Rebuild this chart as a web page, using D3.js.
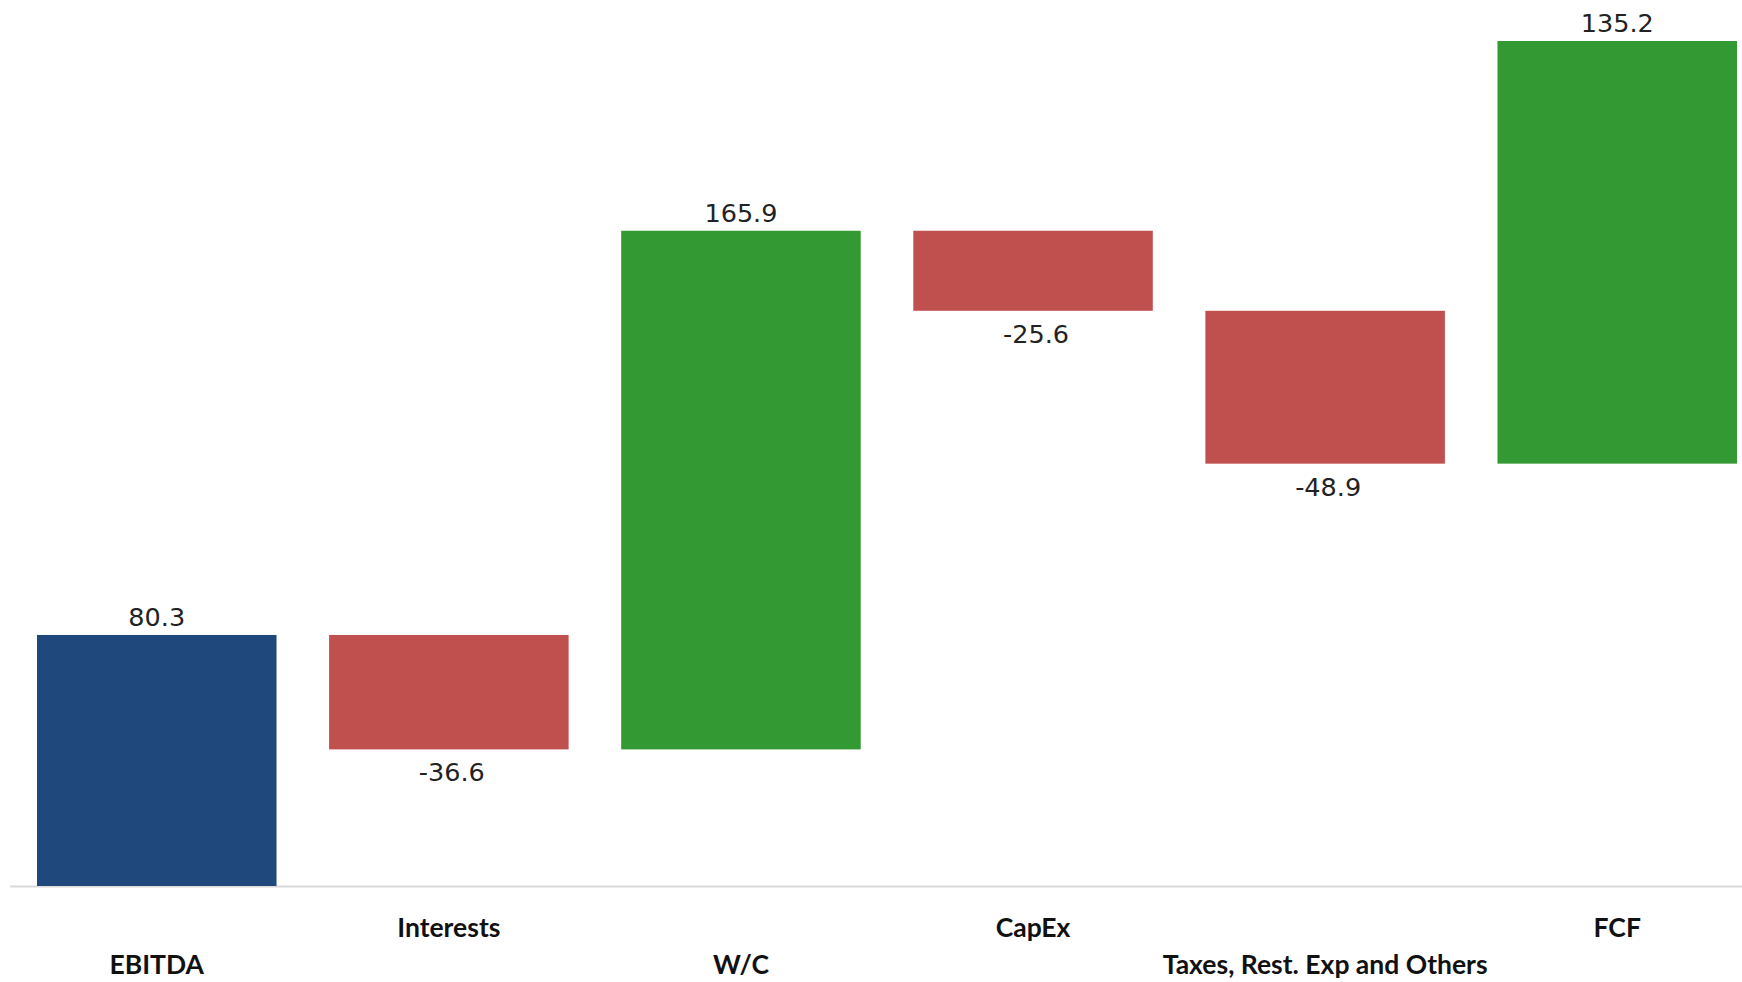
<!DOCTYPE html>
<html>
<head>
<meta charset="utf-8">
<script src="https://cdn.jsdelivr.net/npm/d3@7"></script>
<style>
  html, body { margin: 0; padding: 0; background: #ffffff; }
  svg { display: block; }
</style>
</head>
<body>
<svg id="chart" width="1742" height="982"></svg>
<script>
// ---- data ----
const categories = ["EBITDA", "Interests", "W/C", "CapEx", "Taxes, Rest. Exp and Others", "FCF"];
const values = [80.3, -36.6, 165.9, -25.6, -48.9, 135.2];
const kinds = ["start", "delta", "delta", "delta", "delta", "total"];
const labelRow = [1, 0, 1, 0, 1, 0];
const colors = { start: "#1F497D", up: "#339933", down: "#C0504D", total: "#339933" };

// running totals (the FCF bar in the source floats from the running end)
let run = 0;
const bars = categories.map((c, i) => {
  const v = values[i];
  const y0 = run;
  const y1 = run + v;
  run = y1;
  const kind = kinds[i] === "start" ? "start" : (kinds[i] === "total" ? "total" : (v >= 0 ? "up" : "down"));
  return { cat: c, v, lo: Math.min(y0, y1), hi: Math.max(y0, y1), kind, row: labelRow[i] };
});

const svg = d3.select("#chart");
const W = 1742, H = 982;
const baseY = 886, topY = 41;

const x = d3.scaleBand().domain(categories).range([37, 1737]).paddingInner(0.18).paddingOuter(0);
const y = d3.scaleLinear().domain([0, d3.max(bars, d => d.hi)]).range([baseY, topY]);

// axis line
svg.append("line")
  .attr("x1", 10).attr("x2", W).attr("y1", baseY + 0.5).attr("y2", baseY + 0.5)
  .attr("stroke", "#d9d9d9").attr("stroke-width", 2);

// bars
svg.append("g").selectAll("rect").data(bars).join("rect")
  .attr("x", d => x(d.cat))
  .attr("width", x.bandwidth())
  .attr("y", d => y(d.hi))
  .attr("height", d => y(d.lo) - y(d.hi))
  .attr("fill", d => colors[d.kind]);

const fmt = v => v.toFixed(1);

// value labels
svg.append("g").selectAll("text").data(bars).join("text")
  .attr("x", d => x(d.cat) + x.bandwidth() / 2 + (d.v < 0 ? 3 : 0))
  .attr("y", d => d.v >= 0 ? y(d.hi) - 9 : y(d.lo) + 32)
  .attr("text-anchor", "middle")
  .attr("font-family", "'DejaVu Sans', Verdana, sans-serif")
  .attr("font-size", 25.5)
  .attr("fill", "#222")
  .text(d => fmt(d.v));

// category labels (staggered, two rows)
svg.append("g").selectAll("text").data(bars).join("text")
  .attr("x", d => x(d.cat) + x.bandwidth() / 2)
  .attr("y", d => d.row === 0 ? 937 : 974)
  .attr("text-anchor", "middle")
  .attr("font-family", "Lato, 'Open Sans', sans-serif")
  .attr("font-weight", "bold")
  .attr("font-size", 26.5)
  .attr("fill", "#111")
  .text(d => d.cat);
</script>
</body>
</html>
